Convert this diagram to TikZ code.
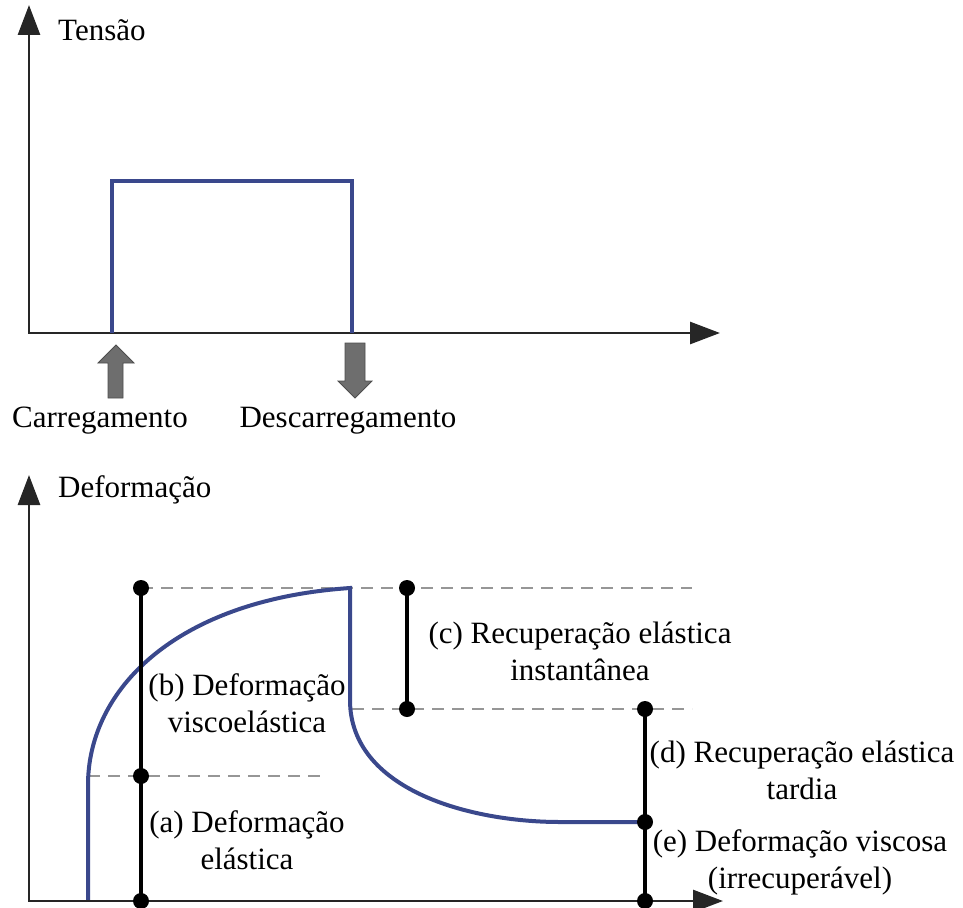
\documentclass[tikz,border=0pt]{standalone}
\usepackage{fontspec}
\setmainfont{Liberation Serif}
\usetikzlibrary{arrows.meta}
\definecolor{curveblue}{RGB}{58,72,140}
\definecolor{dashgray}{RGB}{150,150,150}
\definecolor{arrowgray}{RGB}{110,110,110}
\begin{document}
\begin{tikzpicture}[x=1pt,y=-1pt,
  axes/.style={line width=2.8pt, black!85, {Triangle[length=30pt,width=22pt]}-{Triangle[length=30pt,width=22pt]}},
  lbl/.style={font=\fontsize{31}{37}\selectfont, align=center, inner sep=0pt},
  dot/.style={circle, fill=black, minimum size=16pt, inner sep=0pt},
  bar/.style={line width=4.5pt, black},
  guide/.style={dashgray, line width=1.8pt, dash pattern=on 12pt off 8pt},
  curve/.style={curveblue, line width=4pt},
  grayarrow/.style={fill=arrowgray, draw=arrowgray!70!black, line width=0.8pt}]
\useasboundingbox (0,0) rectangle (963,907);

% ---------- top chart ----------
\coordinate (Y1) at (29,5);
\coordinate (O1) at (29,333);
\coordinate (X1) at (720,333);
\draw[axes] (Y1) -- (O1) -- (X1);
\draw[curve] (112,333) -- (112,181) -- (352,181) -- (352,333);
\node[lbl, anchor=west] (tensao) at (58,30) {Tensão};

\draw[grayarrow] (108,398) -- (108,363) -- (98,363) -- (116,345) -- (134,363) -- (123,363) -- (123,398) -- cycle;
\draw[grayarrow] (345,343) -- (365,343) -- (365,381) -- (372,381) -- (355,398) -- (338,381) -- (345,381) -- cycle;
\node[lbl] (carr) at (100,421) {Carregamento};
\node[lbl] (desc) at (348,421) {Descarregamento};

% ---------- bottom chart ----------
\coordinate (Y2) at (29,475);
\coordinate (O2) at (29,901);
\coordinate (X2) at (723,901);
\node[lbl, anchor=west] (deform) at (58,490) {Deformação};

% guide lines
\coordinate (g1e) at (692,588);
\coordinate (g2s) at (352,709);
\coordinate (g2e) at (692,709);
\coordinate (g3s) at (88,776);
\coordinate (g3e) at (325,776);
\draw[guide] (141,588) -- (g1e);
\draw[guide] (g2s) -- (g2e);
\draw[guide] (g3s) -- (g3e);

% strain curve
\draw[curve] (88,901) -- (88,785) .. controls (88,690) and (175,600) .. (350,588)
  -- (350,700) .. controls (350,790) and (470,822) .. (560,822) -- (645,822);

\draw[axes] (Y2) -- (O2) -- (X2);

% measurement bars
\node[dot] (a0) at (141,901) {};
\node[dot] (a1) at (141,776) {};
\node[dot] (b1) at (141,588) {};
\node[dot] (c0) at (407,588) {};
\node[dot] (c1) at (407,709) {};
\node[dot] (d0) at (645,709) {};
\node[dot] (d1) at (645,822) {};
\node[dot] (e0) at (645,901) {};
\draw[bar] (a0.center) -- (a1.center) -- (b1.center);
\draw[bar] (c0.center) -- (c1.center);
\draw[bar] (d0.center) -- (d1.center) -- (e0.center);

% labels
\node[lbl] (lb) at (247,703) {(b) Deformação\\viscoelástica};
\node[lbl] (lc) at (580,651) {(c) Recuperação elástica\\instantânea};
\node[lbl] (ld) at (802,770) {(d) Recuperação elástica\\tardia};
\node[lbl] (la) at (247,840) {(a) Deformação\\elástica};
\node[lbl] (le) at (800,862) {(e) Deformação viscosa\\(irrecuperável)};
\end{tikzpicture}
\end{document}
